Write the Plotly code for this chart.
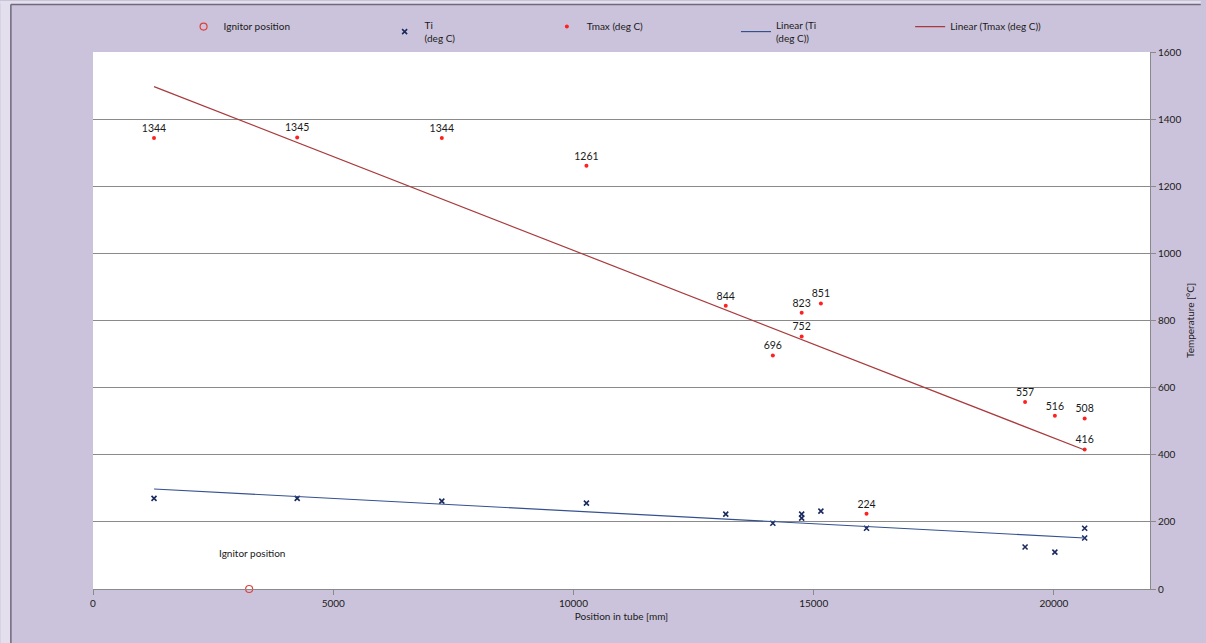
import plotly.graph_objects as go

# ---- data ----
pos_tmax = [1270, 4250, 7260, 10270, 13170, 14150, 14750, 14750, 15150, 16100, 19400, 20020, 20640, 20640]
tmax = [1344, 1345, 1344, 1261, 844, 696, 823, 752, 851, 224, 557, 516, 508, 416]

pos_ti = [1270, 4250, 7260, 10270, 13170, 14150, 14750, 14750, 15150, 16100, 19400, 20020, 20640, 20640]
ti = [270, 270, 262, 256, 223, 196, 223, 211, 232, 181, 125, 110, 181, 152]

ignitor_x = [3250]
ignitor_y = [0]

trend_x = [1270, 20640]
trend_ti = [298, 152]
trend_tmax = [1497, 414]

x_ticks = [0, 5000, 10000, 15000, 20000]
y_ticks = [0, 200, 400, 600, 800, 1000, 1200, 1400, 1600]

FONT = "Lato, 'Open Sans', sans-serif"
BG = "#CBC3DB"
W, H = 1206, 643
L, R, T, B = 93, 51, 51, 54
PW, PH = W - L - R, H - T - B


def px2x(px):
    return (px - L) / PW


def py2y(py):
    return (H - B - py) / PH


fig = go.Figure()

fig.add_trace(go.Scatter(
    x=ignitor_x, y=ignitor_y, mode="markers", name="Ignitor position",
    marker=dict(symbol="circle-open", size=7, color="#E0403A", line=dict(width=1.2)),
    cliponaxis=False, legend="legend"))

fig.add_trace(go.Scatter(
    x=pos_ti, y=ti, mode="markers", name="Ti<br>(deg C)",
    marker=dict(symbol="x-thin", size=5, color="#1B2A5E", line=dict(width=1.6, color="#1B2A5E")),
    legend="legend2"))

fig.add_trace(go.Scatter(
    x=pos_tmax, y=tmax, mode="markers+text", name="Tmax (deg C)",
    text=[str(v) for v in tmax], textposition="top center",
    textfont=dict(family=FONT, size=10.5, color="#1a1a1a"),
    marker=dict(symbol="circle", size=4, color="#FF2020"),
    legend="legend3"))

fig.add_trace(go.Scatter(
    x=trend_x, y=trend_ti, mode="lines", name="Linear (Ti<br>(deg C))",
    line=dict(color="#34508F", width=1.2), legend="legend4"))

fig.add_trace(go.Scatter(
    x=trend_x, y=trend_tmax, mode="lines", name="Linear (Tmax (deg C))",
    line=dict(color="#A83A3C", width=1.2), legend="legend5"))

legend_common = dict(orientation="h", yanchor="top", xanchor="left",
                     bgcolor="rgba(0,0,0,0)", font=dict(family=FONT, size=10, color="#1a1a1a"),
                     itemwidth=30, tracegroupgap=0)
text_starts = [224, 426, 589, 779, 954]
legends = {}
for i, ts in enumerate(text_starts):
    key = "legend" if i == 0 else f"legend{i+1}"
    legends[key] = dict(legend_common, x=px2x(ts - 40), y=py2y(11))

fig.update_layout(
    width=W, height=H,
    margin=dict(l=L, r=R, t=T, b=B),
    paper_bgcolor=BG, plot_bgcolor="white",
    font=dict(family=FONT, size=10, color="#1a1a1a"),
    showlegend=True,
    **legends,
    xaxis=dict(range=[0, 22000], tickvals=x_ticks, ticktext=[str(v) for v in x_ticks],
               showgrid=False, zeroline=False, showline=True, linecolor="#8A8A8A", linewidth=1,
               ticks="outside", ticklen=5, tickcolor="#8A8A8A",
               tickfont=dict(family=FONT, size=10, color="#1a1a1a"),
               title=dict(text="Position in tube [mm]", font=dict(family=FONT, size=10), standoff=4)),
    yaxis=dict(range=[0, 1600], tickvals=y_ticks, side="right",
               showgrid=True, gridcolor="#8A8A8A", gridwidth=1, zeroline=False,
               showline=True, linecolor="#8A8A8A", linewidth=1,
               ticks="outside", ticklen=5, tickcolor="#8A8A8A",
               tickfont=dict(family=FONT, size=10, color="#1a1a1a"),
               title=dict(text="Temperature [°C]", font=dict(family=FONT, size=10), standoff=6)),
    annotations=[dict(x=3314, y=107, xref="x", yref="y", text="Ignitor position",
                      showarrow=False, font=dict(family=FONT, size=10, color="#1a1a1a"))],
    shapes=[
        dict(type="rect", xref="paper", yref="paper", x0=px2x(0), x1=px2x(10), y0=py2y(643), y1=py2y(0),
             fillcolor="#E3DFEC", line=dict(width=0), layer="below"),
        dict(type="rect", xref="paper", yref="paper", x0=px2x(0), x1=px2x(1206), y0=py2y(3), y1=py2y(0),
             fillcolor="#E3DFEC", line=dict(width=0), layer="below"),
        dict(type="line", xref="paper", yref="paper", x0=px2x(10.5), x1=px2x(10.5), y0=py2y(643), y1=py2y(3.5),
             line=dict(color="#6E6A78", width=1.5)),
        dict(type="line", xref="paper", yref="paper", x0=px2x(10.5), x1=px2x(1206), y0=py2y(3.5), y1=py2y(3.5),
             line=dict(color="#6E6A78", width=1.5)),
    ],
)

fig.write_html(
    "out.html",
    config={"displayModeBar": False},
    post_script="document.body.style.margin='0';document.body.style.overflow='hidden';",
)
